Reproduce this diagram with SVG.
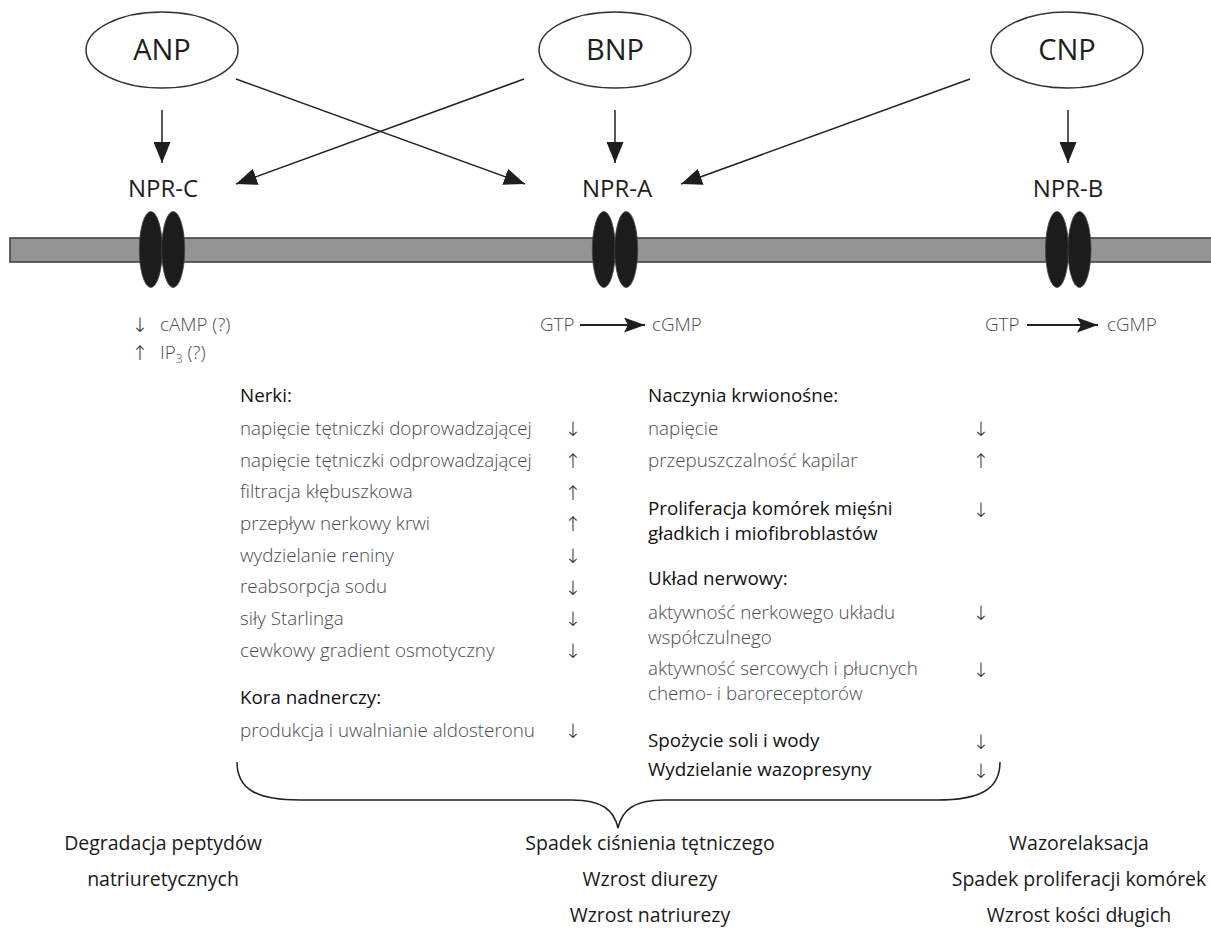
<svg xmlns="http://www.w3.org/2000/svg" width="1211" height="945" viewBox="0 0 1211 945">
<defs>
<marker id="ah" markerUnits="userSpaceOnUse" markerWidth="21" markerHeight="17" refX="21" refY="8.5" orient="auto">
<path d="M0,0 L21,8.5 L0,17 z" fill="#1e1e1e"/>
</marker>
<marker id="ah2" markerUnits="userSpaceOnUse" markerWidth="21" markerHeight="15" refX="21" refY="7.5" orient="auto">
<path d="M0,0 L21,7.5 L0,15 L4,7.5 z" fill="#1e1e1e"/>
</marker>
</defs>
<style>
text{font-family:"Open Sans","Noto Sans","DejaVu Sans",sans-serif;}
.pep{fill:#fff;stroke:#333;stroke-width:1.5;}
.pt{font-size:29px;fill:#1e1e1e;text-anchor:middle;}
.rt{font-size:24px;fill:#1e1e1e;text-anchor:middle;}
.prot{fill:#1c1c1c;stroke:#444;stroke-width:0.8;}
.it{font-size:18.8px;fill:#4a4a4a;font-weight:300;}
.hd{font-size:18.8px;fill:#111;font-weight:500;}
.ar{font-family:"DejaVu Sans","Liberation Sans",sans-serif;font-size:20px;fill:#333;text-anchor:middle;font-weight:300;}
.bt{font-size:19.5px;fill:#1a1a1a;text-anchor:middle;}
.con{stroke:#222;stroke-width:1.5;fill:none;}
.con2{stroke:#222;stroke-width:2;fill:none;}
</style>
<rect width="1211" height="945" fill="#fff"/>
<g id="membrane">
<rect x="10" y="238" width="1215" height="24" fill="#949494" stroke="#3a3a3a" stroke-width="1.5"/>
</g>
<g id="connectors">
<line class="con" x1="162" y1="110" x2="162" y2="163" marker-end="url(#ah)"/>
<line class="con" x1="615" y1="110" x2="615" y2="163" marker-end="url(#ah)"/>
<line class="con" x1="1068" y1="110" x2="1068" y2="163" marker-end="url(#ah)"/>
<line class="con" x1="236" y1="79" x2="525" y2="184" marker-end="url(#ah)"/>
<line class="con" x1="524" y1="79" x2="236" y2="184" marker-end="url(#ah)"/>
<line class="con" x1="970" y1="79" x2="681" y2="184" marker-end="url(#ah)"/>
<line class="con2" x1="580" y1="325" x2="645" y2="325" marker-end="url(#ah2)"/>
<line class="con2" x1="1027" y1="325" x2="1098" y2="325" marker-end="url(#ah2)"/>
<path class="con" stroke-width="2.6" d="M237,762 C237,790 258,800 300,800 L572,800 C602,800 614,810 618,828 C622,810 634,800 664,800 L937,800 C979,800 1000,790 1000,762"/>
</g>
<g id="ANP">
<ellipse class="pep" cx="162" cy="50" rx="76" ry="38"/>
<text class="pt" x="162" y="60">ANP</text>
</g>
<g id="BNP">
<ellipse class="pep" cx="615" cy="50" rx="76" ry="38"/>
<text class="pt" x="615" y="60">BNP</text>
</g>
<g id="CNP">
<ellipse class="pep" cx="1067" cy="50" rx="76" ry="38"/>
<text class="pt" x="1067" y="60">CNP</text>
</g>
<g id="NPR-C">
<text class="rt" x="163" y="197">NPR-C</text>
<ellipse class="prot" cx="150.8" cy="249.5" rx="11.5" ry="38"/>
<ellipse class="prot" cx="173.2" cy="249.5" rx="11.5" ry="38"/>
</g>
<g id="NPR-A">
<text class="rt" x="617" y="197">NPR-A</text>
<ellipse class="prot" cx="603.8" cy="249.5" rx="11.5" ry="38"/>
<ellipse class="prot" cx="626.2" cy="249.5" rx="11.5" ry="38"/>
</g>
<g id="NPR-B">
<text class="rt" x="1068" y="197">NPR-B</text>
<ellipse class="prot" cx="1057" cy="249.5" rx="11.5" ry="38"/>
<ellipse class="prot" cx="1079.5" cy="249.5" rx="11.5" ry="38"/>
</g>
<g id="second-messengers">
<text class="ar" x="140" y="332">↓</text>
<text class="it" x="160" y="331">cAMP (?)</text>
<text class="ar" x="140" y="360">↑</text>
<text class="it" x="160" y="359">IP<tspan font-size="12" dy="4">3</tspan><tspan dy="-4"> (?)</tspan></text>
<text class="it" x="540" y="331">GTP</text>
<text class="it" x="652" y="331">cGMP</text>
<text class="it" x="985" y="331">GTP</text>
<text class="it" x="1107" y="331">cGMP</text>
</g>
<g id="effects-left">
<text class="hd" x="240" y="401.5">Nerki:</text>
<text class="it" x="240" y="434.5">napięcie tętniczki doprowadzającej</text>
<text class="it" x="240" y="466.5">napięcie tętniczki odprowadzającej</text>
<text class="it" x="240" y="498">filtracja kłębuszkowa</text>
<text class="it" x="240" y="529.5">przepływ nerkowy krwi</text>
<text class="it" x="240" y="561.5">wydzielanie reniny</text>
<text class="it" x="240" y="593">reabsorpcja sodu</text>
<text class="it" x="240" y="624.5">siły Starlinga</text>
<text class="it" x="240" y="656.5">cewkowy gradient osmotyczny</text>
<text class="hd" x="240" y="704">Kora nadnerczy:</text>
<text class="it" x="240" y="736.5">produkcja i uwalnianie aldosteronu</text>
<text class="ar" x="573" y="436">↓</text>
<text class="ar" x="573" y="468">↑</text>
<text class="ar" x="573" y="499.5">↑</text>
<text class="ar" x="573" y="531">↑</text>
<text class="ar" x="573" y="563">↓</text>
<text class="ar" x="573" y="594.5">↓</text>
<text class="ar" x="573" y="626">↓</text>
<text class="ar" x="573" y="658">↓</text>
<text class="ar" x="573" y="738">↓</text>
</g>
<g id="effects-right">
<text class="hd" x="648" y="401.5">Naczynia krwionośne:</text>
<text class="it" x="648" y="434.5">napięcie</text>
<text class="it" x="648" y="466.5">przepuszczalność kapilar</text>
<text class="hd" x="648" y="515">Proliferacja komórek mięśni</text>
<text class="hd" x="648" y="540">gładkich i miofibroblastów</text>
<text class="hd" x="648" y="585">Układ nerwowy:</text>
<text class="it" x="648" y="618.5">aktywność nerkowego układu</text>
<text class="it" x="648" y="643.5">współczulnego</text>
<text class="it" x="648" y="675">aktywność sercowych i płucnych</text>
<text class="it" x="648" y="700">chemo- i baroreceptorów</text>
<text class="hd" x="648" y="747">Spożycie soli i wody</text>
<text class="hd" x="648" y="776">Wydzielanie wazopresyny</text>
<text class="ar" x="981" y="436">↓</text>
<text class="ar" x="981" y="468">↑</text>
<text class="ar" x="981" y="516.5">↓</text>
<text class="ar" x="981" y="620">↓</text>
<text class="ar" x="981" y="676.5">↓</text>
<text class="ar" x="981" y="748.5">↓</text>
<text class="ar" x="981" y="777.5">↓</text>
</g>
<g id="outcome-left">
<text class="bt" x="163" y="849.5">Degradacja peptydów</text>
<text class="bt" x="163" y="886">natriuretycznych</text>
</g>
<g id="outcome-middle">
<text class="bt" x="650" y="849.5">Spadek ciśnienia tętniczego</text>
<text class="bt" x="650" y="886">Wzrost diurezy</text>
<text class="bt" x="650" y="921.5">Wzrost natriurezy</text>
</g>
<g id="outcome-right">
<text class="bt" x="1079" y="849.5">Wazorelaksacja</text>
<text class="bt" x="1079" y="886">Spadek proliferacji komórek</text>
<text class="bt" x="1079" y="921.5">Wzrost kości długich</text>
</g>
</svg>
